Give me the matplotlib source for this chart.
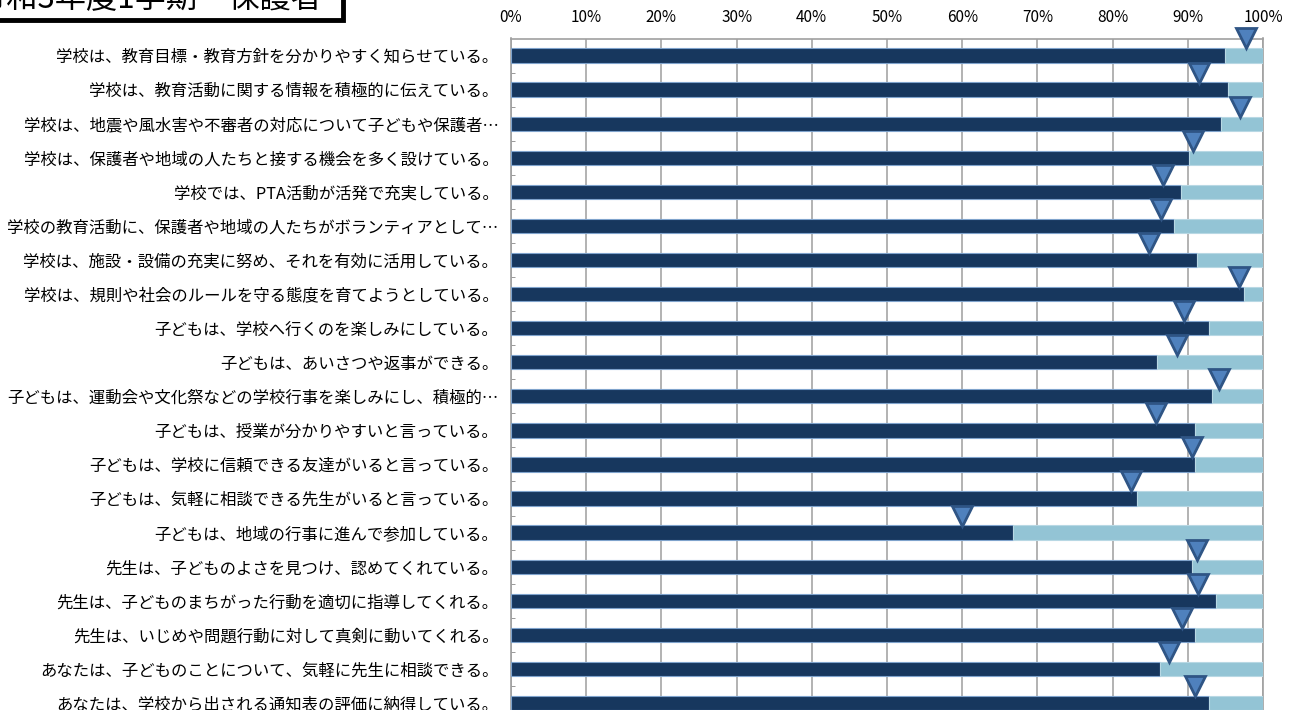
import matplotlib.pyplot as plt
from matplotlib.patches import Rectangle

plt.rcParams['font.family'] = ['Noto Sans CJK JP', 'DejaVu Sans']

# survey items (top to bottom)
questions = [
    "学校は、教育目標・教育方針を分かりやすく知らせている。",
    "学校は、教育活動に関する情報を積極的に伝えている。",
    "学校は、地震や風水害や不審者の対応について子どもや保護者…",
    "学校は、保護者や地域の人たちと接する機会を多く設けている。",
    "学校では、PTA活動が活発で充実している。",
    "学校の教育活動に、保護者や地域の人たちがボランティアとして…",
    "学校は、施設・設備の充実に努め、それを有効に活用している。",
    "学校は、規則や社会のルールを守る態度を育てようとしている。",
    "子どもは、学校へ行くのを楽しみにしている。",
    "子どもは、あいさつや返事ができる。",
    "子どもは、運動会や文化祭などの学校行事を楽しみにし、積極的…",
    "子どもは、授業が分かりやすいと言っている。",
    "子どもは、学校に信頼できる友達がいると言っている。",
    "子どもは、気軽に相談できる先生がいると言っている。",
    "子どもは、地域の行事に進んで参加している。",
    "先生は、子どものよさを見つけ、認めてくれている。",
    "先生は、子どものまちがった行動を適切に指導してくれる。",
    "先生は、いじめや問題行動に対して真剣に動いてくれる。",
    "あなたは、子どものことについて、気軽に先生に相談できる。",
    "あなたは、学校から出される通知表の評価に納得している。",
]

# positive answer rate (%), this term
positive = [94.9, 95.4, 94.4, 90.2, 89.1, 88.1, 91.2, 97.5, 92.8, 85.9,
            93.2, 91.0, 91.0, 83.3, 66.8, 90.5, 93.7, 91.0, 86.3, 92.8]
# previous result (triangle markers, %)
previous = [97.8, 91.5, 96.9, 90.7, 86.7, 86.4, 84.9, 96.8, 89.5, 88.5,
            94.1, 85.8, 90.5, 82.4, 60.0, 91.2, 91.4, 89.2, 87.5, 91.0]
rest = [100 - p for p in positive]

pct_ticks = list(range(0, 101, 10))

fig = plt.figure(figsize=(12.97, 7.10), dpi=100)
ax = fig.add_axes([511 / 1297, 1 - 720 / 710, 752 / 1297, 681.5 / 710])

y = list(range(len(questions)))
ax.barh(y, positive, height=0.42, color="#17375e", edgecolor="#7fa3cc",
        linewidth=0.8, zorder=3)
ax.barh(y, rest, left=positive, height=0.42, color="#93c4d5",
        edgecolor="#b8d8e4", linewidth=0.8, zorder=3)
ax.plot(previous, [i - 0.5 for i in y], linestyle="none", marker="v",
        markersize=14, markerfacecolor="#4f81bd", markeredgecolor="#2f5585",
        markeredgewidth=2, zorder=5, clip_on=False)

ax.set_xlim(0, 100)
ax.set_ylim(len(questions) - 0.5, -0.5)
ax.xaxis.tick_top()
ax.set_xticks(pct_ticks)
ax.set_xticklabels([f"{t}%" for t in pct_ticks], fontsize=11)
ax.tick_params(axis="x", length=0, pad=9)
ax.grid(axis="x", color="#a6a6a6", linewidth=1.2, zorder=0)

ax.set_yticks(y)
ax.set_yticklabels(questions, fontsize=11.8)
ax.set_yticks([i + 0.5 for i in y], minor=True)
ax.tick_params(axis="y", which="major", length=0, pad=9)
ax.tick_params(axis="y", which="minor", direction="in", length=3,
               color="#888888")
for s in ax.spines.values():
    s.set_color("#a0a0a0")
    s.set_linewidth(1.2)

# title box (cut off at the top of the picture)
fig.add_artist(Rectangle((-0.01, 1 - 20 / 710), 0.01 + 343 / 1297, 0.1,
                         transform=fig.transFigure, facecolor="white",
                         edgecolor="black", linewidth=3.5, clip_on=False))
fig.text(322 / 1297, 1 - 8 / 710, "令和3年度1学期　保護者", fontsize=22.5,
         ha="right", va="baseline")

plt.savefig("out.png", dpi=100)
